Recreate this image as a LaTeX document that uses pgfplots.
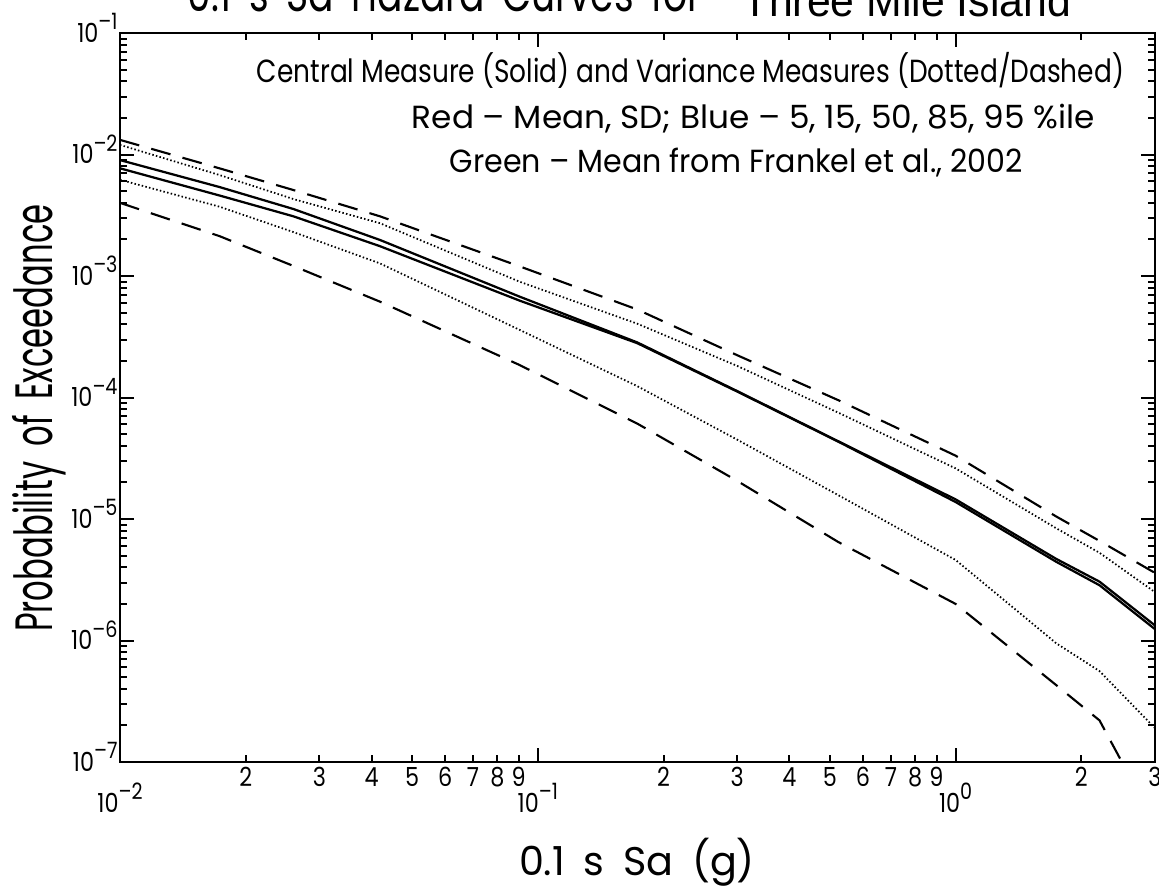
\documentclass[border=0pt]{standalone}
\usepackage{fontspec}
\setmainfont{Poppins}[FakeStretch=0.85]
\newfontfamily\arialfont{Liberation Sans}
\usepackage{graphicx}
\usepackage{pgfplots}
\usepackage{pgfplotstable}
\pgfplotsset{compat=1.18}

% 10^n labels, text font
\newcommand{\dec}[1]{10\raisebox{0.48em}{\fontsize{9}{10}\selectfont #1}}
\newcommand{\xmaj}[1]{\raisebox{-18pt}[0pt][0pt]{\dec{#1}}}
\newcommand{\ymaj}[1]{\raisebox{0pt}[7.3pt][0pt]{\dec{#1}}}

% columns: 95%, 85% (upper dashed / dotted), two solids, 15% (lower dotted)
\pgfplotstableread{
x      ud       udt      sa       sb       ldt
0.01   1.32e-2  1.20e-2  9.0e-3   7.7e-3   6.2e-3
0.0173 7.7e-3   6.78e-3  5.4e-3   4.6e-3   3.72e-3
0.026  5.1e-3   4.3e-3   3.56e-3  3.10e-3  2.3e-3
0.0419 3.1e-3   2.72e-3  1.98e-3  1.76e-3  1.27e-3
0.0905 1.2e-3   8.97e-4  6.76e-4  6.27e-4  3.60e-4
0.173  5.30e-4  4.05e-4  2.84e-4  2.80e-4  1.24e-4
0.30   2.23e-4  1.82e-4  1.13e-4  1.12e-4  4.50e-5
0.524  9.5e-5   7.5e-5   4.36e-5  4.33e-5  1.57e-5
1.0    3.32e-5  2.61e-5  1.45e-5  1.38e-5  4.6e-6
1.74   1.05e-5  8.4e-6   4.7e-6   4.45e-6  9.5e-7
2.21   6.6e-6   5.27e-6  3.05e-6  2.85e-6  5.6e-7
3.0    3.6e-6   2.5e-6   1.33e-6  1.24e-6  1.9e-7
}\hazard

% lower dashed (5%) runs out at the bottom of the axis
\pgfplotstableread{
x      ld
0.01   4.0e-3
0.0173 2.13e-3
0.026  1.21e-3
0.0419 6.15e-4
0.0905 1.85e-4
0.173  6.1e-5
0.30   2.06e-5
0.524  6.46e-6
1.0    2.0e-6
1.74   4.3e-7
2.21   2.2e-7
2.5    1.0e-7
}\lowfive

\begin{document}
\begin{tikzpicture}
\begin{axis}[
  name=ax,
  at={(0,0)}, anchor=south west,
  scale only axis,
  width=414pt, height=291.6pt,
  xmode=log, ymode=log,
  xmin=0.01, xmax=3, ymin=1e-7, ymax=1e-1,
  axis line style={line width=1.1pt},
  tick align=inside,
  major tick length=5.6pt, minor tick length=3pt,
  every tick/.style={black, line width=0.8pt},
  xtick={0.01,0.1,1},
  xticklabels={\xmaj{–2},\xmaj{–1},\xmaj{0}},
  xticklabel style={anchor=north, inner sep=2pt, font=\fontsize{10.5}{12}\selectfont},
  extra x ticks={0.02,0.03,0.04,0.05,0.06,0.07,0.08,0.09,0.2,0.3,0.4,0.5,0.6,0.7,0.8,0.9,2,3},
  extra x tick labels={2,3,4,5,6,7,8,9,2,3,4,5,6,7,8,9,2,3},
  extra x tick style={major tick length=3pt},
  ytick={1e-7,1e-6,1e-5,1e-4,1e-3,1e-2,1e-1},
  yticklabels={\ymaj{–7},\ymaj{–6},\ymaj{–5},\ymaj{–4},\ymaj{–3},\ymaj{–2},\ymaj{–1}},
  yticklabel style={anchor=east, inner sep=0.8pt, font=\fontsize{10.5}{12}\selectfont},
  clip=false,
]
\addplot[black, line width=0.85pt, dash pattern=on 8pt off 5pt] table[x=x, y=ud] {\hazard};
\addplot[black, line width=0.7pt, dash pattern=on 0.6pt off 0.9pt] table[x=x, y=udt] {\hazard};
\addplot[black, line width=0.9pt] table[x=x, y=sa] {\hazard};
\addplot[black, line width=0.9pt] table[x=x, y=sb] {\hazard};
\addplot[black, line width=0.7pt, dash pattern=on 0.6pt off 0.9pt] table[x=x, y=ldt] {\hazard};
\addplot[black, line width=0.85pt, dash pattern=on 8pt off 5pt] table[x=x, y=ld] {\lowfive};
\end{axis}

% annotation lines inside the frame
\node[anchor=base, inner sep=0pt] at (228.2pt,271.6pt)
  {\resizebox{346.8pt}{\height}{\fontsize{12.8}{15}\selectfont Central Measure (Solid) and Variance Measures (Dotted/Dashed)}};
\node[anchor=base, inner sep=0pt] at (253.4pt,253.2pt)
  {\resizebox{273.2pt}{\height}{\fontsize{12.8}{15}\selectfont Red – Mean, SD; Blue – 5, 15, 50, 85, 95 \%ile}};
\node[anchor=base, inner sep=0pt] at (246.6pt,235.6pt)
  {\resizebox{229.2pt}{\height}{\fontsize{12.8}{15}\selectfont Green – Mean from Frankel et al., 2002}};

% axis titles
\node[anchor=base, inner sep=0pt] at (206.8pt,-45.2pt)
  {\resizebox{94.4pt}{\height}{\fontsize{16}{18}\selectfont 0.1\hspace{0.4em}s\hspace{0.4em}Sa\hspace{0.4em}(g)}};
\node[anchor=base, inner sep=0pt, rotate=90] at (-26.8pt,137.6pt)
  {\resizebox{171pt}{\height}{\fontsize{21}{24}\selectfont Probability\hspace{0.4em}of\hspace{0.4em}Exceedance}};

% title, cut by the top edge of the page
\node[anchor=base, inner sep=0pt] at (130pt,300.2pt)
  {\resizebox{205.6pt}{\height}{\fontsize{20}{22}\selectfont 0.1\hspace{0.4em}s\hspace{0.4em}Sa\hspace{0.4em}Hazard\hspace{0.4em}Curves\hspace{0.4em}for}};
\node[anchor=base, inner sep=0pt] at (314.8pt,298pt)
  {\resizebox{131.2pt}{\height}{\arialfont\fontsize{18}{20}\selectfont Three Mile Island}};

\pgfresetboundingbox
\useasboundingbox (-48pt,-51.6pt) rectangle (415.6pt,304.8pt);
\end{tikzpicture}
\end{document}
